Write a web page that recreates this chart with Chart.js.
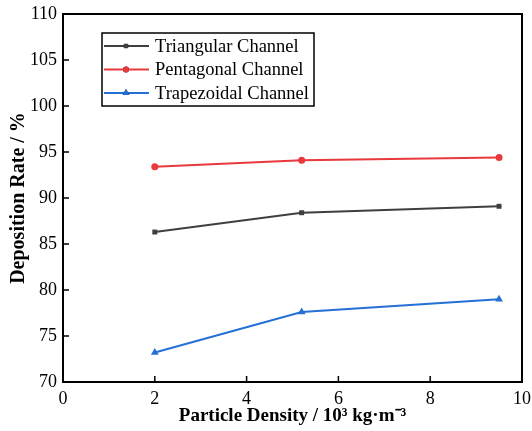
<!DOCTYPE html>
<html>
<head>
<meta charset="utf-8">
<script src="https://cdn.jsdelivr.net/npm/chart.js@4"></script>
<style>
  html, body { margin: 0; padding: 0; background: #fff; }
  #wrap { width: 532px; height: 431px; }
</style>
</head>
<body>
<div id="wrap"><canvas id="chart"></canvas></div>
<script>
const densities = [2, 5.2, 9.5];
const triangular = [86.3, 88.4, 89.1];
const pentagonal = [93.4, 94.1, 94.4];
const trapezoidal = [73.2, 77.6, 79.0];
const seriesNames = ["Triangular Channel", "Pentagonal Channel", "Trapezoidal Channel"];
const xTitle = "Particle Density / 10\u00B3 kg\u00B7m\u207B\u00B3";
const yTitle = "Deposition Rate / %";

const serif = "'Liberation Serif', 'Times New Roman', serif";

function pts(vals) {
  return vals.map((v, i) => ({ x: densities[i], y: v }));
}

function series(label, vals, color, style, radius) {
  return {
    label: label,
    data: pts(vals),
    borderColor: color,
    backgroundColor: color,
    borderWidth: 2,
    pointStyle: style,
    pointRadius: radius,
    pointHoverRadius: radius,
    pointBorderWidth: 0,
    tension: 0,
  };
}

// frame, inward ticks and a boxed legend inside the plot
const framePlugin = {
  id: "frame",
  afterDatasetsDraw(chart) {
    const { ctx, chartArea: a, scales } = chart;
    ctx.save();
    ctx.strokeStyle = "#000";
    ctx.lineWidth = 2;
    ctx.strokeRect(a.left, a.top, a.width, a.height);
    ctx.lineWidth = 1.5;
    ctx.beginPath();
    scales.x.ticks.forEach((t) => {
      const px = scales.x.getPixelForValue(t.value);
      ctx.moveTo(px, a.bottom);
      ctx.lineTo(px, a.bottom - 6);
    });
    scales.y.ticks.forEach((t) => {
      const py = scales.y.getPixelForValue(t.value);
      ctx.moveTo(a.left, py);
      ctx.lineTo(a.left + 6, py);
    });
    ctx.stroke();

    // legend
    const bx = a.left + 39, by = a.top + 19, bw = 212, bh = 73;
    ctx.lineWidth = 1.5;
    ctx.strokeRect(bx, by, bw, bh);
    ctx.font = "18.5px " + serif;
    ctx.textBaseline = "middle";
    ctx.fillStyle = "#000";
    chart.data.datasets.forEach((ds, i) => {
      const y = by + 13 + i * 23.5;
      ctx.strokeStyle = ds.borderColor;
      ctx.lineWidth = 2;
      ctx.beginPath();
      ctx.moveTo(bx + 2, y);
      ctx.lineTo(bx + 47, y);
      ctx.stroke();
      Chart.helpers.drawPoint(ctx, { pointStyle: ds.pointStyle, radius: ds.pointRadius - 0.5, borderWidth: 0 }, bx + 24, y);
      ctx.fillStyle = ds.backgroundColor;
      ctx.fill();
      ctx.fillStyle = "#000";
      ctx.fillText(ds.label, bx + 53, y + 1);
    });
    ctx.restore();
  },
};

new Chart(document.getElementById("chart").getContext("2d"), {
  type: "line",
  data: {
    datasets: [
      series(seriesNames[0], triangular, "#3f3f3f", "rect", 3.5),
      series(seriesNames[1], pentagonal, "#e8393d", "circle", 3.5),
      series(seriesNames[2], trapezoidal, "#2470d6", "triangle", 4.5),
    ],
  },
  options: {
    responsive: true,
    maintainAspectRatio: false,
    animation: false,
    layout: { padding: { top: 14, right: 10, left: 0, bottom: 0 } },
    plugins: {
      legend: { display: false },
      tooltip: { enabled: false },
    },
    scales: {
      x: {
        type: "linear",
        min: 0,
        max: 10,
        afterFit(scale) {
          scale.height = 49;
          scale.paddingLeft = 0;
          scale.paddingRight = 0;
        },
        ticks: { stepSize: 2, color: "#000", padding: 6, font: { family: serif, size: 18 } },
        grid: { display: false, drawTicks: false },
        border: { display: false },
        title: {
          display: true,
          text: xTitle,
          color: "#000",
          padding: { top: 0, bottom: 4 },
          font: { family: serif, size: 19, weight: "bold" },
        },
      },
      y: {
        min: 70,
        max: 110,
        afterFit(scale) {
          scale.width = 63;
          scale.paddingTop = 0;
          scale.paddingBottom = 0;
        },
        ticks: { stepSize: 5, color: "#000", padding: 6, font: { family: serif, size: 18 } },
        grid: { display: false, drawTicks: false },
        border: { display: false },
        title: {
          display: true,
          text: yTitle,
          color: "#000",
          padding: { top: 7, bottom: 0 },
          font: { family: serif, size: 20, weight: "bold" },
        },
      },
    },
  },
  plugins: [framePlugin],
});
</script>
</body>
</html>
